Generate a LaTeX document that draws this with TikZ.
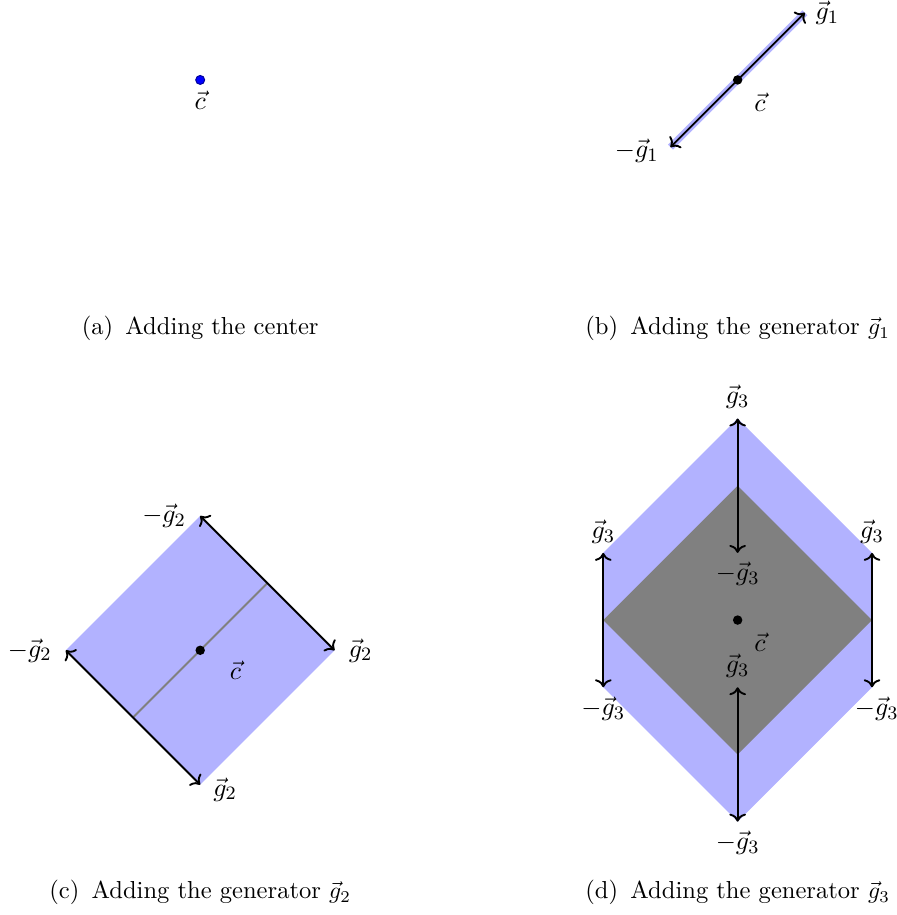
\documentclass[tikz,border=0pt]{standalone}
\usepackage{amsmath, amssymb}
\usepackage{tikz}
\usetikzlibrary{positioning, arrows.meta, calc}

\begin{document}
\begin{tikzpicture}[scale=1.0,
    every node/.style={font=\fontsize{11.2pt}{13.5pt}\selectfont},
    caption/.style={font=\fontsize{10.4pt}{12.5pt}\selectfont},
    gen/.style={<->, thick},
    centredot/.style={fill=black}]
  \useasboundingbox (0,0) rectangle (13.35,13.62);
  %% (a) Adding the center
  \begin{scope}[shift={(2.98,12.43)}]
    \coordinate (ca) at (0,0);
    \filldraw[fill=blue, draw=blue!60!black, thin] (ca) circle (1.9pt);
    \node[below=1pt] (lca) at (ca) {$\vec{c}$};
  \end{scope}
  \node[caption] (capa) at (2.98,8.73) {(a)\enspace Adding the center};
  %% (b) Adding the generator g1
  \begin{scope}[shift={(10.98,12.43)}]
    \coordinate (cb) at (0,0);
    \coordinate (bp) at (1,1);
    \coordinate (bm) at (-1,-1);
    \draw[blue!30, line width=3pt] (bm) -- (bp);
    \draw[gen] (bm) -- (bp);
    \fill[centredot] (cb) circle (2pt);
    \node[below right=2pt and 3.5pt] (lcb) at (cb) {$\vec{c}$};
    \node[right=1pt] (lbp) at (bp) {$\vec{g}_1$};
    \node[left=1.5pt, yshift=-1.5pt] (lbm) at (bm) {$-\vec{g}_1$};
  \end{scope}
  \node[caption] (capb) at (10.98,8.73) {(b)\enspace Adding the generator $\vec{g}_1$};
  %% (c) Adding the generator g2
  \begin{scope}[shift={(2.98,3.94)}]
    \coordinate (cc) at (0,0);
    \coordinate (cp) at (1,1);
    \coordinate (cpa) at (2,0);
    \coordinate (cpb) at (0,2);
    \coordinate (cm) at (-1,-1);
    \coordinate (cma) at (0,-2);
    \coordinate (cmb) at (-2,0);
    \fill[blue!30] (cpa) -- (cpb) -- (cmb) -- (cma) -- cycle;
    \draw[gray, thick] (cm) -- (cp);
    \draw[gen] (cpb) -- (cpa);
    \draw[gen] (cmb) -- (cma);
    \fill[centredot] (cc) circle (2pt);
    \node[below right=1pt and 9pt] (lcc) at (cc) {$\vec{c}$};
    \node[left=2.5pt] (lcpb) at (cpb) {$-\vec{g}_2$};
    \node[right=2.5pt] (lcpa) at (cpa) {$\vec{g}_2$};
    \node[left=2.5pt] (lcmb) at (cmb) {$-\vec{g}_2$};
    \node[right=2pt, yshift=-2pt] (lcma) at (cma) {$\vec{g}_2$};
  \end{scope}
  \node[caption] (capc) at (2.98,0.33) {(c)\enspace Adding the generator $\vec{g}_2$};
  %% (d) Adding the generator g3
  \begin{scope}[shift={(10.98,4.39)}]
    \coordinate (cd) at (0,0);
    %% outer hexagon and inner diamond
    \fill[blue!30] (0,3) -- (2,1) -- (2,-1) -- (0,-3) -- (-2,-1) -- (-2,1) -- cycle;
    \fill[gray] (2,0) -- (0,2) -- (-2,0) -- (0,-2) -- cycle;
    %% top vertex
    \coordinate (dtu) at (0,3);
    \coordinate (dtd) at (0,1);
    \draw[gen] (dtd) -- (dtu);
    \node[above=0.5pt] (ldtu) at (dtu) {$\vec{g}_3$};
    \node[below=0.5pt] (ldtd) at (dtd) {$-\vec{g}_3$};
    %% bottom vertex
    \coordinate (dbu) at (0,-1);
    \coordinate (dbd) at (0,-3);
    \draw[gen] (dbd) -- (dbu);
    \node[above=0.5pt] (ldbu) at (dbu) {$\vec{g}_3$};
    \node[below=0.5pt] (ldbd) at (dbd) {$-\vec{g}_3$};
    %% left vertex
    \coordinate (dlu) at (-2,1);
    \coordinate (dld) at (-2,-1);
    \draw[gen] (dld) -- (dlu);
    \node[above=0.5pt] (ldlu) at (dlu) {$\vec{g}_3$};
    \node[below=0.5pt] (ldld) at (dld) {$-\vec{g}_3$};
    %% right vertex
    \coordinate (dru) at (2,1);
    \coordinate (drd) at (2,-1);
    \draw[gen] (drd) -- (dru);
    \node[above=0.5pt] (ldru) at (dru) {$\vec{g}_3$};
    \node[below=0.5pt, xshift=2pt] (ldrd) at (drd) {$-\vec{g}_3$};
    \fill[centredot] (cd) circle (2pt);
    \node[below right=2pt and 3.5pt] (lcd) at (cd) {$\vec{c}$};
  \end{scope}
  \node[caption] (capd) at (10.98,0.33) {(d)\enspace Adding the generator $\vec{g}_3$};
\end{tikzpicture}
\end{document}
